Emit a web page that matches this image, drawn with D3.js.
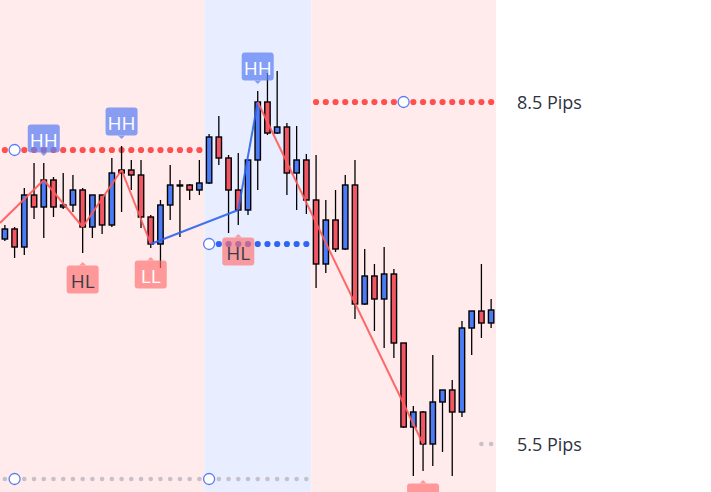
<!DOCTYPE html>
<html><head><meta charset="utf-8">
<script src="https://cdn.jsdelivr.net/npm/d3@7/dist/d3.min.js"></script>
<style>html,body{margin:0;padding:0;background:#fff;overflow:hidden}</style>
</head><body>
<svg id="chart" width="711" height="492"></svg>
<script>
// ---- data (price in points) ----
const opens  = [261,271,253,305,293,320,293,295,310,273,305,275,330,330,325,283,256,295,315,315,310,317,363,342,310,290,340,398,367,373,327,340,300,236,280,251,315,196,224,201,226,157,73,88,56,98,110,88,172,189,177];
const highs  = [275,273,312,337,337,323,327,325,312,305,305,342,354,340,340,285,300,335,320,316,340,366,384,345,347,340,409,427,429,377,374,346,345,300,310,325,340,251,236,253,231,157,94,89,145,110,120,179,189,236,201];
const lows   = [259,242,245,281,262,283,291,288,247,262,266,273,288,310,272,252,232,280,263,300,305,316,335,267,275,285,310,365,366,305,290,286,212,227,248,250,181,195,169,152,142,72,24,29,34,48,24,83,145,162,172];
const closes = [271,253,305,293,320,293,295,310,273,305,275,327,327,325,283,256,295,315,314,310,317,363,342,310,290,340,398,367,373,327,340,300,236,280,251,315,196,224,201,226,157,73,88,56,98,110,88,172,189,177,190];

const regions = [
  {start: 0,  end: 20, trend: "bear"},
  {start: 21, end: 31, trend: "bull"},
  {start: 32, end: 50, trend: "bear"}
];

// zigzag pivots: kind 'high' uses body top, 'low' uses body bottom
const zigStart = {index: -0.5, value: 277};
const pivots = [
  {index: 4,  kind: "high", label: "HH", trend: "bear"},
  {index: 8,  kind: "low",  label: "HL", trend: "bear"},
  {index: 12, kind: "high", label: "HH", trend: "bear"},
  {index: 15, kind: "low",  label: "LL", trend: "bear"},
  {index: 24, kind: "low",  label: "HL", trend: "bull"},
  {index: 26, kind: "high", label: "HH", trend: "bull"},
  {index: 43, kind: "low",  label: "LL", trend: "bear"}
];

const levels = [
  {value: 350, start: 0,  end: 20, kind: "bear", marker: 1},
  {value: 256, start: 21, end: 31, kind: "bull", marker: 21},
  {value: 398, start: 32, end: 50, kind: "bear", marker: 41},
  {value: 21,  start: 0,  end: 31, kind: "grey", marker: [1, 21]},
  {value: 56,  start: 49, end: 50, kind: "grey", marker: []}
];

const pipLabels = [
  {value: 398, text: "8.5 Pips"},
  {value: 56,  text: "5.5 Pips"}
];

// ---- styles ----
const C = {
  bgBear: "#ffebeb", bgBull: "#e8eeff",
  up: "#4b7bf5", down: "#f25563",
  zigBear: "#ff5a5a", zigBull: "#2f64ee",
  dotBear: "#ff4f4f", dotBull: "#2f64f5", dotGrey: "#c6c1c8",
  hhFill: "#5b80f5", lowFill: "#ff7070"
};

const W = 711, H = 492, plotW = 496;
const n = opens.length;
const svg = d3.select("#chart");
const xc = d3.scaleLinear().domain([-0.5, n - 0.5]).range([0, plotW]);
const y = d3.scaleLinear().domain([8, 500]).range([H, 0]);

// backgrounds
svg.append("g").selectAll("rect").data(regions).join("rect")
  .attr("x", d => xc(d.start - 0.5))
  .attr("width", d => xc(d.end + 0.5) - xc(d.start - 0.5))
  .attr("y", 0).attr("height", H)
  .attr("fill", d => d.trend === "bull" ? C.bgBull : C.bgBear);

// level dots
const gDots = svg.append("g");
levels.forEach(l => {
  const marks = Array.isArray(l.marker) ? l.marker : [l.marker];
  const pts = d3.range(l.start, l.end + 1).filter(i => !marks.includes(i));
  const col = l.kind === "bear" ? C.dotBear : l.kind === "bull" ? C.dotBull : C.dotGrey;
  const r = l.kind === "grey" ? 2.3 : 3.1;
  gDots.append("g").selectAll("circle").data(pts).join("circle")
    .attr("cx", i => xc(i)).attr("cy", y(l.value)).attr("r", r).attr("fill", col);
});

// candles
const idx = d3.range(n);
const gC = svg.append("g");
gC.selectAll("line").data(idx).join("line")
  .attr("x1", i => xc(i)).attr("x2", i => xc(i))
  .attr("y1", i => y(highs[i])).attr("y2", i => y(lows[i]))
  .attr("stroke", "#000").attr("stroke-width", 1.3);
gC.selectAll("rect").data(idx).join("rect")
  .attr("x", i => xc(i) - 2.7).attr("width", 5.4)
  .attr("y", i => y(Math.max(opens[i], closes[i])))
  .attr("height", i => Math.max(1, Math.abs(y(opens[i]) - y(closes[i]))))
  .attr("fill", i => closes[i] >= opens[i] ? C.up : C.down)
  .attr("stroke", "#000").attr("stroke-width", 1.4);

// zigzag
const pv = p => p.kind === "high" ? Math.max(opens[p.index], closes[p.index]) : Math.min(opens[p.index], closes[p.index]);
let prev = zigStart;
const gZ = svg.append("g");
pivots.forEach(p => {
  gZ.append("line")
    .attr("x1", xc(prev.index)).attr("y1", y(prev.value))
    .attr("x2", xc(p.index)).attr("y2", y(pv(p)))
    .attr("stroke", p.trend === "bull" ? C.zigBull : C.zigBear)
    .attr("stroke-width", 2).attr("stroke-opacity", 0.9);
  prev = {index: p.index, value: pv(p)};
});

// hollow markers
const gM = svg.append("g");
levels.forEach(l => {
  const marks = Array.isArray(l.marker) ? l.marker : [l.marker];
  marks.forEach(i => {
    gM.append("circle").attr("cx", xc(i)).attr("cy", y(l.value)).attr("r", 5.5)
      .attr("fill", "#fff").attr("stroke", "#5b7cf5").attr("stroke-width", 1.3);
  });
});

// pivot labels
const bw = 32, bh = 28, tri = 3.5;
const gL = svg.append("g");
pivots.forEach(p => {
  const px = xc(p.index);
  const isHigh = p.kind === "high";
  const tip = isHigh ? y(highs[p.index]) - 7 : y(lows[p.index]) + 9;
  const top = isHigh ? tip - tri - bh : tip + tri;
  const g = gL.append("g").attr("opacity", isHigh ? 0.72 : 0.66);
  const fill = isHigh ? C.hhFill : C.lowFill;
  g.append("rect").attr("x", px - bw / 2).attr("y", top).attr("width", bw).attr("height", bh)
    .attr("rx", 3).attr("fill", fill);
  const ty = isHigh ? tip - tri : tip + tri;
  g.append("path").attr("d", `M${px - tri},${ty} L${px},${tip} L${px + tri},${ty} Z`).attr("fill", fill);
  gL.append("text").attr("x", px).attr("y", top + bh / 2 + 1)
    .attr("text-anchor", "middle").attr("dominant-baseline", "central")
    .attr("font-family", "Open Sans, sans-serif").attr("font-size", 19)
    .attr("fill", p.label === "HL" ? "#3a3d48" : "#ffffff")
    .text(p.label);
});

// pip labels
svg.append("g").selectAll("text").data(pipLabels).join("text")
  .attr("x", 517).attr("y", d => y(d.value))
  .attr("dominant-baseline", "central")
  .attr("font-family", "Open Sans, sans-serif").attr("font-size", 18)
  .attr("fill", "#2f3240")
  .text(d => d.text);
</script>
</body></html>
